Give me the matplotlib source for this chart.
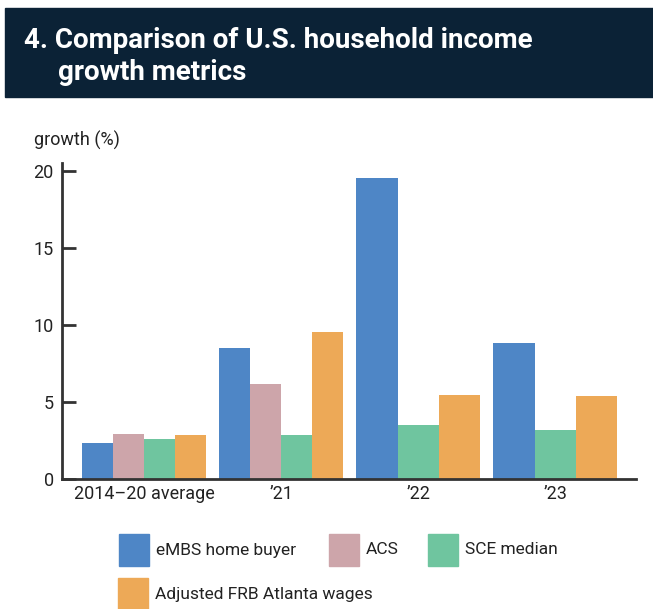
import matplotlib
matplotlib.use("Agg")
import matplotlib.pyplot as plt
from matplotlib.patches import Rectangle
import numpy as np

plt.rcParams['font.family'] = ['Roboto', 'DejaVu Sans']

categories = ["2014\u201320 average", "\u201921", "\u201922", "\u201923"]
series_names = ["eMBS home buyer", "ACS", "SCE median", "Adjusted FRB Atlanta wages"]
embs = [2.36, 8.52, 19.6, 8.85]
acs = [2.95, 6.18, None, None]
sce = [2.62, 2.86, 3.51, 3.19]
frb = [2.88, 9.56, 5.47, 5.40]
yticks = [0, 5, 10, 15, 20]

colors = ["#4e86c6", "#cda5aa", "#6fc59f", "#eda957"]
series = [embs, acs, sce, frb]

W, H = 653, 609
fig = plt.figure(figsize=(W / 100, H / 100), dpi=100)

# title band
fig.patches.append(Rectangle((5 / W, 1 - 97 / H), 1, 89 / H, transform=fig.transFigure,
                             color="#0b2236", zorder=0))
fig.text(24 / W, 1 - 40 / H, "4. Comparison of U.S. household income", color="white",
         fontsize=20, fontweight="bold", va="center", ha="left")
fig.text(58 / W, 1 - 73 / H, "growth metrics", color="white",
         fontsize=20, fontweight="bold", va="center", ha="left")

ax = fig.add_axes([62 / W, 1 - 479 / H, (636 - 62) / W, (479 - 163) / H])
group_w = 0.905
for gi in range(len(categories)):
    present = [si for si in range(len(series)) if series[si][gi] is not None]
    n = len(present)
    bw = group_w / n
    for k, si in enumerate(present):
        x = gi - group_w / 2 + bw * (k + 0.5)
        ax.bar(x, series[si][gi], width=bw, color=colors[si], linewidth=0, zorder=2)

ax.set_xlim(-0.6, 3.59)
ax.set_ylim(0, 20.55)
ax.set_yticks(yticks)
ax.set_xticks(range(len(categories)))
ax.set_xticklabels(categories)
for s in ["top", "right"]:
    ax.spines[s].set_visible(False)
for s in ["left", "bottom"]:
    ax.spines[s].set_color("#333333")
    ax.spines[s].set_linewidth(2)
ax.tick_params(axis="y", direction="in", length=10, width=2, color="#333333",
               labelsize=13, labelcolor="#222222", pad=6)
ax.tick_params(axis="x", length=0, labelsize=13, labelcolor="#222222", pad=4)

fig.text(34 / W, 1 - 140 / H, "growth (%)", fontsize=13, color="#222222",
         va="center", ha="left")

# legend
leg_items = [(119, 534, 0), (329, 534, 1), (428, 534, 2), (118, 578, 3)]
for (lx, ly, si) in leg_items:
    fig.patches.append(Rectangle((lx / W, 1 - (ly + 32) / H), 30 / W, 32 / H,
                                 transform=fig.transFigure, color=colors[si]))
    fig.text((lx + 37) / W, 1 - (ly + 16) / H, series_names[si], fontsize=12.5,
             color="#222222", va="center", ha="left")

fig.savefig("out.png", dpi=100)
